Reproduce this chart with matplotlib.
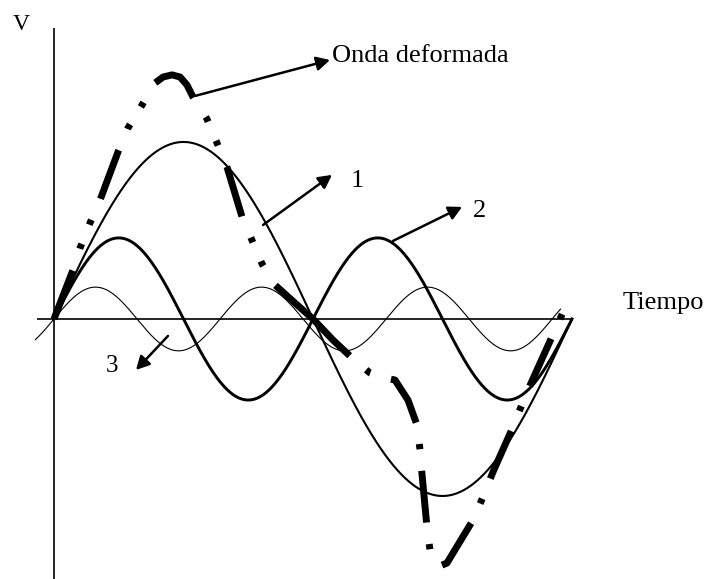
import numpy as np
import matplotlib
matplotlib.use("Agg")
import matplotlib.pyplot as plt

plt.rcParams['lines.scale_dashes'] = False

# ---- data (time in degrees of the fundamental, voltage relative to fundamental amplitude) ----
harmonic_labels = ["1", "2", "3"]
harmonic_period_deg = [360.0, 180.0, 115.4]
harmonic_amplitudes = [1.0, 0.458, 0.18]
harmonic_start_deg = [0.0, 0.0, -13.0]
harmonic_end_deg = [360.0, 360.0, 352.0]
harmonic_widths = [1.5, 2.1, 0.8]

# deformed wave, first half (dash-dot-dot stroke) and second half (dash-dot stroke)
deformed_t1 = [0.0, 13.2, 18.1, 25.0, 32.0, 44.5, 51.4, 61.2, 70.2, 75.8, 82.0, 87.6,
               92.4, 96.6, 106.3, 113.3, 120.2, 130.7, 136.9, 144.6, 153.6, 167.5, 180.0]
deformed_v1 = [0.0, 0.277, 0.401, 0.542, 0.672, 0.944, 1.079, 1.209, 1.333, 1.367, 1.379, 1.367,
               1.322, 1.254, 1.130, 0.994, 0.859, 0.576, 0.458, 0.311, 0.192, 0.090, 0.0]
deformed_t2 = [180.0, 193.9, 207.1, 219.6, 228.0, 237.0, 246.0, 252.3, 254.4, 255.8,
               259.2, 261.3, 268.3, 273.1, 291.2, 298.1, 305.1, 319.0, 325.9, 329.4, 355.1]
deformed_v2 = [0.0, -0.119, -0.220, -0.305, -0.330, -0.345, -0.458, -0.599, -0.740, -0.881,
               -1.175, -1.305, -1.395, -1.379, -1.136, -1.006, -0.864, -0.610, -0.469, -0.401, 0.062]

axis_x_range = [-12.0, 360.7]
axis_y_range = [-1.47, 1.644]

# annotation arrows: (start on curve) -> (tip)
arrow_starts = [(98.0, 1.260), (145.3, 0.531), (235.6, 0.441), (79.2, -0.096)]
arrow_tips = [(191.8, 1.463), (193.2, 0.814), (283.6, 0.633), (57.0, -0.288)]

text_labels = ["V", "Onda deformada", "1", "2", "3", "Tiempo"]
text_pos = [(-22.9, 1.633), (193.2, 1.452), (210.6, 0.746), (295.4, 0.576), (40.3, -0.299), (395.4, 0.056)]
text_ha = ["center", "left", "center", "center", "center", "left"]
text_size = [17, 19, 19, 19, 18, 19]

# ---- figure ----
fig = plt.figure(figsize=(7.04, 5.79), dpi=100)
fig.patch.set_facecolor("white")
ax = fig.add_axes([0, 0, 1, 1])
ax.set_xlim(-37.53, 451.74)
ax.set_ylim(-1.469, 1.802)
ax.axis("off")

# axes lines
ax.plot(axis_x_range, [0, 0], color="black", lw=1.2, solid_capstyle="butt")
ax.plot([0, 0], axis_y_range, color="black", lw=1.2, solid_capstyle="butt")

for per, amp, s, e, lw in zip(harmonic_period_deg, harmonic_amplitudes, harmonic_start_deg,
                              harmonic_end_deg, harmonic_widths):
    t = np.linspace(s, e, 600)
    ax.plot(t, amp * np.sin(2 * np.pi * t / per), color="black", lw=lw)

# deformed wave
ax.plot(deformed_t1, deformed_v1, color="black", lw=5.0,
        linestyle=(0, (37.4, 16.5, 3.8, 14.8, 3.8, 16.5)),
        dash_joinstyle="round", dash_capstyle="butt")
ax.plot(deformed_t2, deformed_v2, color="black", lw=5.0,
        linestyle=(0, (37.4, 15.6, 3.8, 15.6)),
        dash_joinstyle="round", dash_capstyle="butt")

for (sx, sy), (tx, ty) in zip(arrow_starts, arrow_tips):
    ax.annotate("", xy=(tx, ty), xytext=(sx, sy),
                arrowprops=dict(arrowstyle="-|>,head_length=0.8,head_width=0.42",
                                color="black", lw=1.8, shrinkA=0, shrinkB=0))

for lab, (x, y), ha, fs in zip(text_labels, text_pos, text_ha, text_size):
    ax.text(x, y, lab, ha=ha, va="baseline", fontsize=fs, family="Liberation Serif", color="black")

fig.savefig("out.png", dpi=100, facecolor="white")
